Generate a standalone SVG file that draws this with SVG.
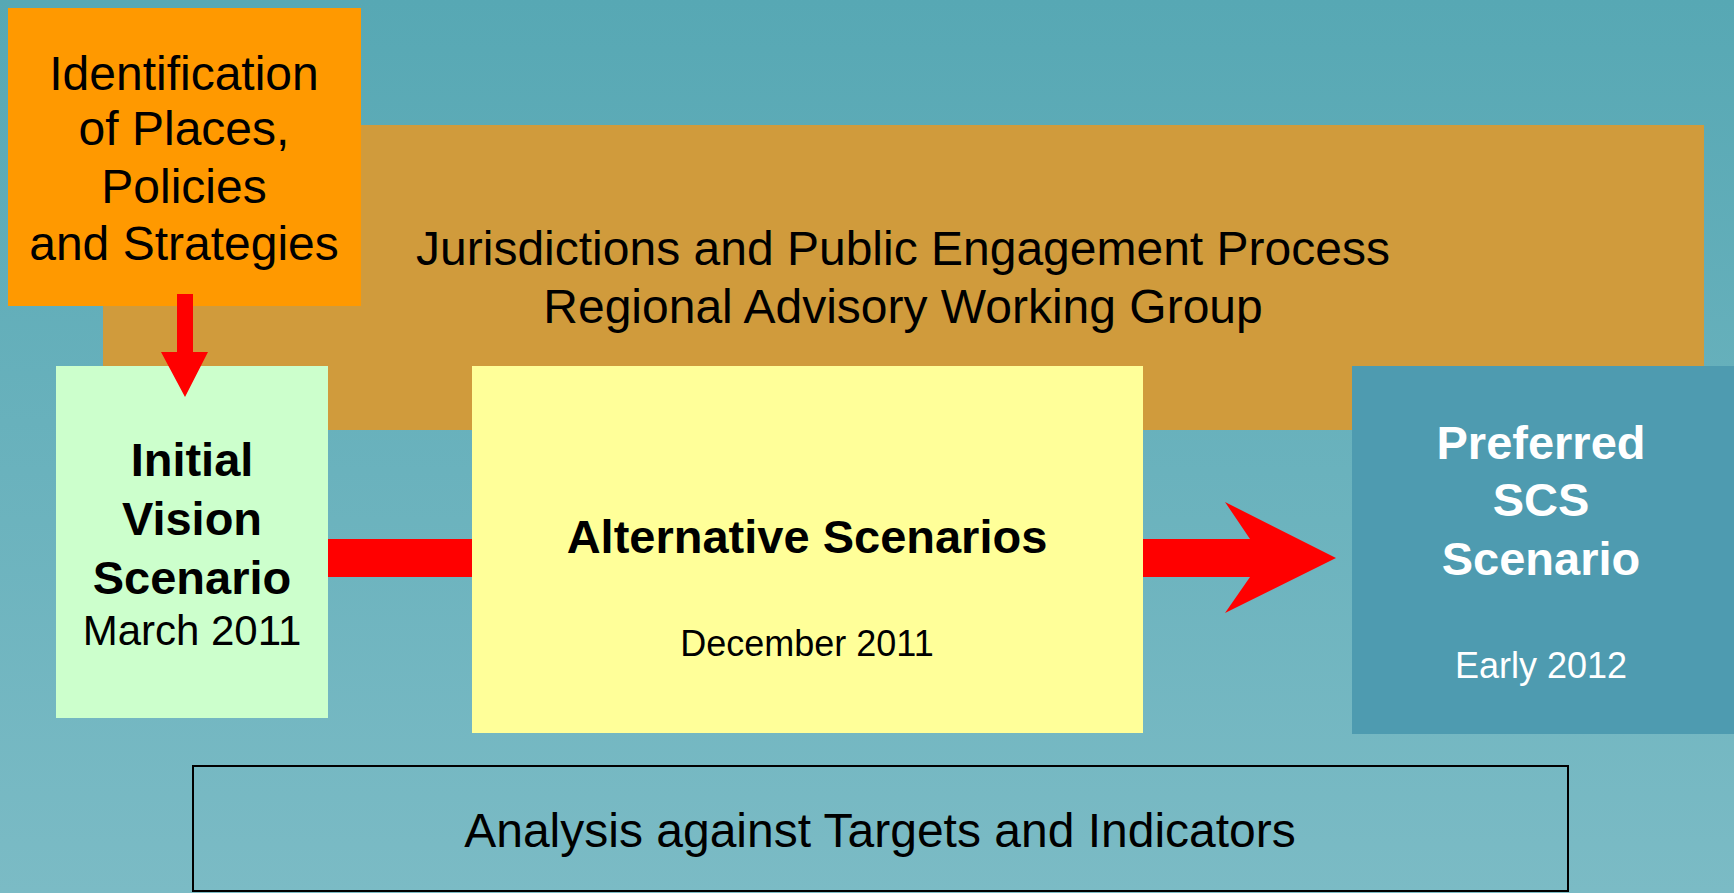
<svg xmlns="http://www.w3.org/2000/svg" width="1734" height="893" viewBox="0 0 1734 893">
  <defs>
    <linearGradient id="bg" x1="0" y1="0" x2="0" y2="1">
      <stop offset="0" stop-color="#57A8B4"/>
      <stop offset="1" stop-color="#7BBBC5"/>
    </linearGradient>
  </defs>
  <style>
    .t { font-family: "Liberation Sans", Arial, sans-serif; text-anchor: middle; }
    .r { font-size: 48px; fill: #000; }
    .b { font-size: 47px; font-weight: bold; }
    .s { font-size: 36px; }
    .red { fill: #FF0000; }
  </style>
  <rect width="1734" height="893" fill="url(#bg)"/>

  <g id="engagement">
    <rect x="103" y="125" width="1601" height="305" fill="#D09B3C"/>
    <text class="t r" x="903" y="265">Jurisdictions and Public Engagement Process</text>
    <text class="t r" x="903" y="323">Regional Advisory Working Group</text>
  </g>

  <g id="identification">
    <rect x="8" y="8" width="353" height="298" fill="#FF9900"/>
    <text class="t r" x="184" y="90">Identification</text>
    <text class="t r" x="184" y="145">of Places,</text>
    <text class="t r" x="184" y="203">Policies</text>
    <text class="t r" x="184" y="260">and Strategies</text>
  </g>

  <g id="initial">
    <rect x="56" y="366" width="272" height="352" fill="#CCFFCC"/>
    <text class="t b" x="192" y="476" fill="#000">Initial</text>
    <text class="t b" x="192" y="535" fill="#000">Vision</text>
    <text class="t b" x="192" y="594" fill="#000">Scenario</text>
    <text class="t" x="192" y="645" font-size="42" fill="#000">March 2011</text>
  </g>

  <g id="alternative">
    <rect x="472" y="366" width="671" height="367" fill="#FFFF99"/>
    <text class="t b" x="807" y="553" fill="#000">Alternative Scenarios</text>
    <text class="t s" x="807" y="656" fill="#000">December 2011</text>
  </g>

  <g id="preferred">
    <rect x="1352" y="366" width="382" height="368" fill="#4E9BB0"/>
    <text class="t b" x="1541" y="459" fill="#FFFFFF">Preferred</text>
    <text class="t b" x="1541" y="516" fill="#FFFFFF">SCS</text>
    <text class="t b" x="1541" y="575" fill="#FFFFFF">Scenario</text>
    <text class="t s" x="1541" y="678" fill="#FFFFFF">Early 2012</text>
  </g>

  <g id="analysis">
    <rect x="193" y="766" width="1375" height="125" fill="none" stroke="#000" stroke-width="2"/>
    <text class="t r" x="880" y="847">Analysis against Targets and Indicators</text>
  </g>

  <g id="connectors">
    <polygon class="red" points="177,294 193,294 193,352 208,352 185,397 161,352 177,352"/>
    <rect class="red" x="328" y="539" width="144" height="38"/>
    <polygon class="red" points="1143,539 1250,539 1225,502 1336,558 1225,613 1250,577 1143,577"/>
  </g>
</svg>
